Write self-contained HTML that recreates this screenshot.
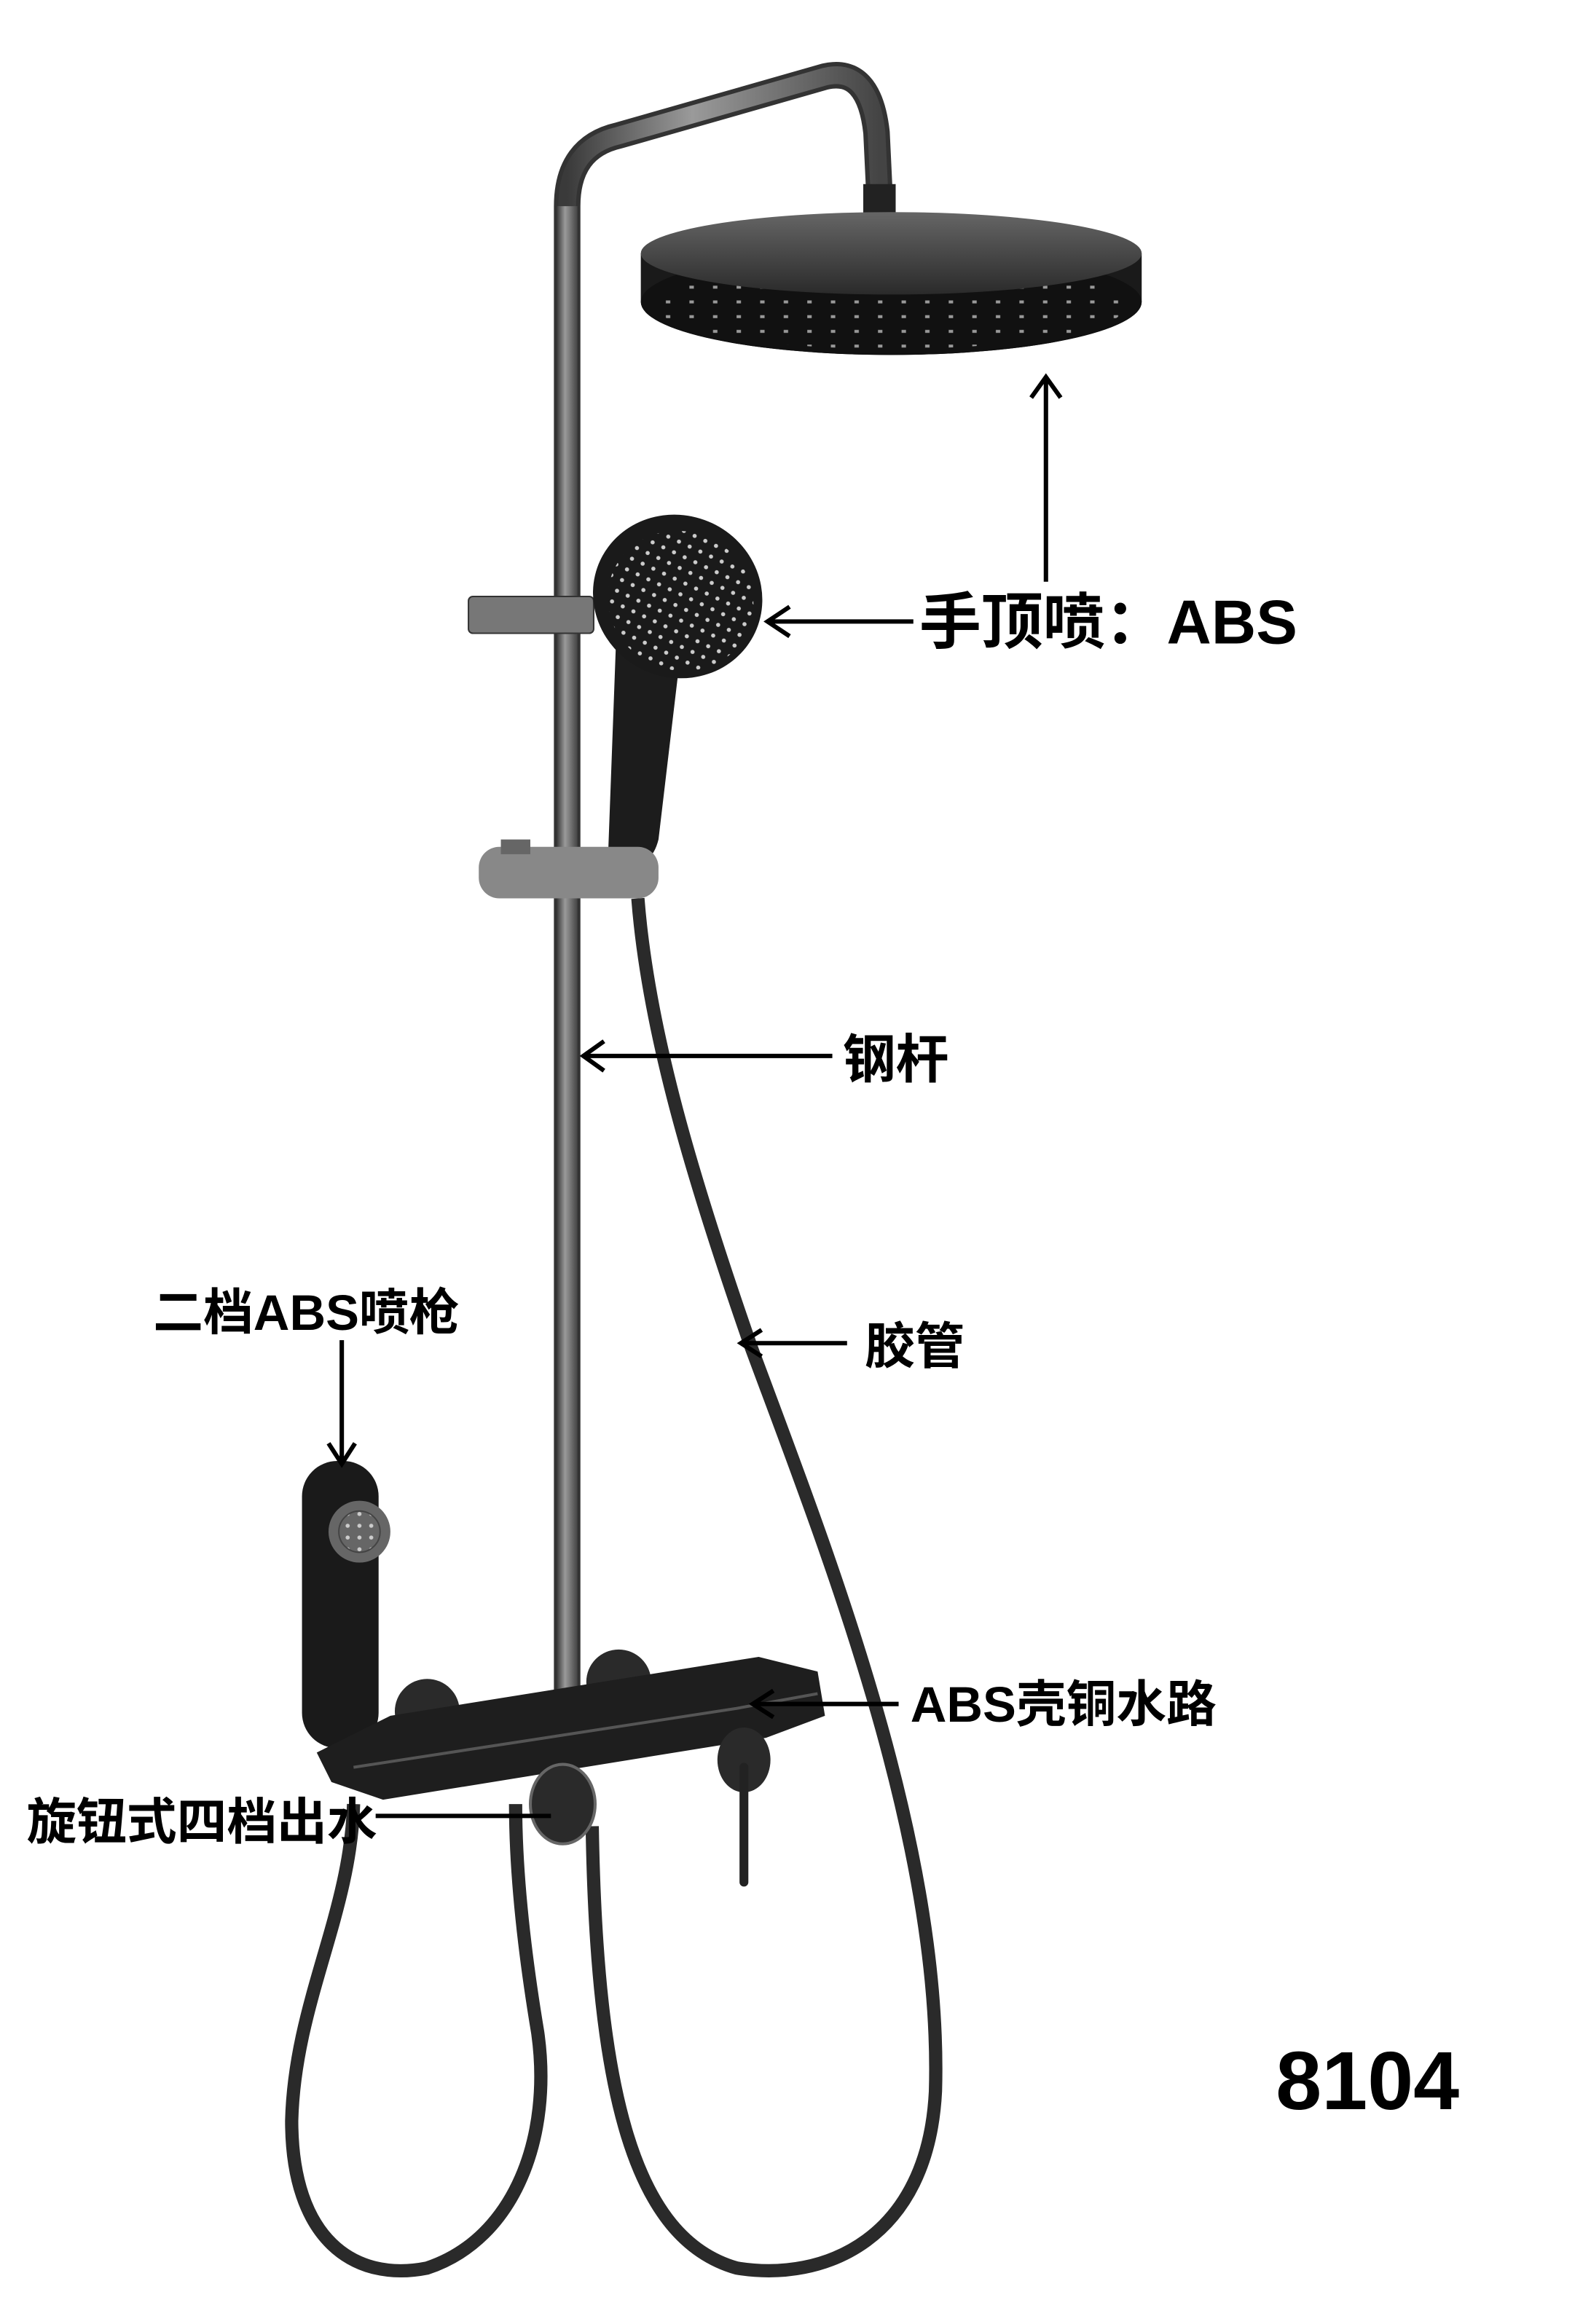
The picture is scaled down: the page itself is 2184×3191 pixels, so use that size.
<!DOCTYPE html>
<html><head><meta charset="utf-8"><style>
html,body{margin:0;padding:0;background:#fff;}
svg{display:block;}
text{font-family:"Liberation Sans","Noto Sans CJK SC",sans-serif;font-weight:bold;fill:#000;}
</style></head><body>
<svg width="2184" height="3191" viewBox="0 0 1080 1578" preserveAspectRatio="none" xmlns="http://www.w3.org/2000/svg">
<defs>
<linearGradient id="pole" x1="0" x2="1"><stop offset="0" stop-color="#3a3a3a"/><stop offset="0.4" stop-color="#9a9a9a"/><stop offset="1" stop-color="#444"/></linearGradient>
<linearGradient id="rim" x1="0" x2="0" y1="0" y2="1"><stop offset="0" stop-color="#666"/><stop offset="1" stop-color="#2a2a2a"/></linearGradient>
<pattern id="dots" width="16" height="10" patternUnits="userSpaceOnUse"><rect x="4" y="4" width="3" height="2" fill="#bbb"/></pattern>
<pattern id="dots2" width="8" height="8" patternUnits="userSpaceOnUse"><circle cx="4" cy="4" r="1.4" fill="#ccc"/></pattern>
</defs>
<!-- hoses -->
<path d="M433,610 C440,700 470,800 510,915 C560,1050 640,1250 635,1420 C630,1520 560,1550 500,1540 C430,1520 405,1420 402,1240" fill="none" stroke="#2a2a2a" stroke-width="9"/>
<path d="M240,1225 C238,1300 200,1360 198,1440 C198,1520 240,1550 290,1540 C350,1520 375,1450 365,1380 C355,1320 350,1270 350,1225" fill="none" stroke="#2a2a2a" stroke-width="9"/>
<!-- pole -->
<path d="M385,1150 L385,140 Q385,100 420,92 L560,52 Q590,45 595,90 L597,132" fill="none" stroke="#333" stroke-width="18" stroke-linejoin="round"/>
<path d="M385,1150 L385,140 Q385,100 420,92 L560,52 Q590,45 595,90 L597,132" fill="none" stroke="url(#pole)" stroke-width="12"/>
<rect x="378" y="140" width="14" height="1010" fill="url(#pole)"/>
<!-- overhead head -->
<rect x="586" y="125" width="22" height="22" fill="#222"/>
<path d="M435,172 L435,205 A170,36 0 0 0 775,205 L775,172 Z" fill="#1a1a1a"/>
<ellipse cx="605" cy="205" rx="170" ry="36" fill="#111"/>
<ellipse cx="605" cy="207" rx="160" ry="30" fill="url(#dots)" opacity="0.8"/>
<ellipse cx="605" cy="172" rx="170" ry="28" fill="url(#rim)"/>
<!-- holder -->
<rect x="318" y="405" width="85" height="25" rx="3" fill="#777" stroke="#333"/>
<!-- handle -->
<path d="M418,440 L460,460 L447,570 Q442,590 425,585 L413,575 Z" fill="#1c1c1c"/>
<!-- hand shower head -->
<ellipse cx="460" cy="405" rx="58" ry="55" transform="rotate(25 460 405)" fill="#1a1a1a"/>
<ellipse cx="462" cy="408" rx="50" ry="47" transform="rotate(25 462 408)" fill="url(#dots2)"/>
<!-- slider -->
<rect x="325" y="575" width="122" height="35" rx="14" fill="#888"/>
<rect x="340" y="570" width="20" height="10" fill="#666"/>
<!-- spray gun -->
<rect x="205" y="992" width="52" height="195" rx="24" fill="#1a1a1a"/>
<circle cx="244" cy="1040" r="21" fill="#666"/><circle cx="244" cy="1040" r="14" fill="url(#dots2)" stroke="#444"/>
<!-- shelf -->
<circle cx="290" cy="1162" r="22" fill="#2a2a2a"/>
<circle cx="420" cy="1142" r="22" fill="#2a2a2a"/>
<path d="M215,1190 L265,1165 L515,1125 L555,1135 L560,1165 L520,1180 L260,1222 L225,1210 Z" fill="#1e1e1e"/>
<path d="M240,1200 L500,1160 L555,1150" fill="none" stroke="#555" stroke-width="2"/>
<ellipse cx="382" cy="1225" rx="22" ry="27" fill="#2a2a2a" stroke="#666" stroke-width="2"/>
<ellipse cx="505" cy="1195" rx="18" ry="22" fill="#2a2a2a"/>
<path d="M505,1200 L505,1278" stroke="#222" stroke-width="6" stroke-linecap="round"/>
<!-- arrows -->
<g stroke="#000" stroke-width="3" fill="none">
<path d="M710,395 L710,258 M700,270 L710,256 L720,270"/>
<path d="M620,422 L522,422 M536,412 L521,422 L536,432"/>
<path d="M565,717 L397,717 M410,707 L396,717 L410,727"/>
<path d="M575,912 L505,912 M517,903 L503,912 L517,921"/>
<path d="M232,910 L232,993 M223,980 L232,994 L241,980"/>
<path d="M610,1157 L512,1157 M525,1148 L511,1157 L525,1166"/>
<path d="M255,1233 L374,1233"/>
</g>
<text x="624" y="437" font-size="42">手顶喷：ABS</text>
<text x="572" y="732" font-size="36">钢杆</text>
<text x="587" y="926" font-size="34">胶管</text>
<text x="104" y="903" font-size="34">二档ABS喷枪</text>
<text x="618" y="1169" font-size="34">ABS壳铜水路</text>
<text x="18" y="1249" font-size="34">旋钮式四档出水</text>
<text x="866" y="1432" font-size="56">8104</text>
</svg>
</body></html>
